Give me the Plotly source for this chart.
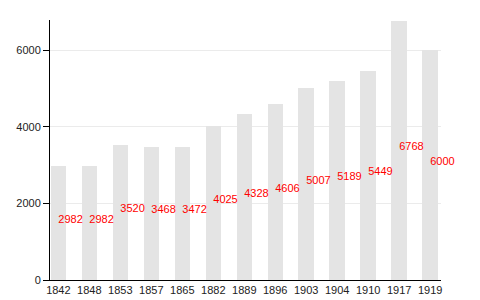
import plotly.graph_objects as go

years = ["1842", "1848", "1853", "1857", "1865", "1882", "1889", "1896", "1903", "1904", "1910", "1917", "1919"]
population = [2982, 2982, 3520, 3468, 3472, 4025, 4328, 4606, 5007, 5189, 5449, 6768, 6000]
y_ticks = [0, 2000, 4000, 6000]

idx = list(range(len(years)))

fig = go.Figure()
fig.add_trace(go.Bar(
    x=idx, y=population, width=0.5,
    marker=dict(color="#e4e4e4", line=dict(width=0)),
    hoverinfo="skip",
))
fig.add_trace(go.Scatter(
    x=idx, y=[v / 2 + 80 for v in population], mode="text",
    text=[str(v) for v in population], textposition="middle right",
    textfont=dict(color="#ff0000", size=11, family="Liberation Sans, Arial, sans-serif"),
    hoverinfo="skip", cliponaxis=False,
))
fig.update_layout(
    width=480, height=300,
    margin=dict(l=50, r=39, t=20, b=20),
    plot_bgcolor="white", paper_bgcolor="white",
    showlegend=False,
    font=dict(family="Liberation Sans, Arial, sans-serif", size=11, color="#222"),
    bargap=0,
)
fig.update_xaxes(
    range=[-0.27, 12.35], tickmode="array", tickvals=idx, ticktext=years,
    showline=True, linecolor="black", linewidth=1, showgrid=False,
    ticks="", ticklen=0, zeroline=False, fixedrange=True, automargin=False,
)
fig.update_yaxes(
    range=[0, 6790], tickmode="array", tickvals=y_ticks,
    showline=True, linecolor="black", linewidth=1,
    showgrid=True, gridcolor="#ebebeb", gridwidth=1,
    ticks="outside", ticklen=6, tickcolor="black",
    zeroline=False, fixedrange=True, automargin=False,
)
fig.write_html("out.html")
